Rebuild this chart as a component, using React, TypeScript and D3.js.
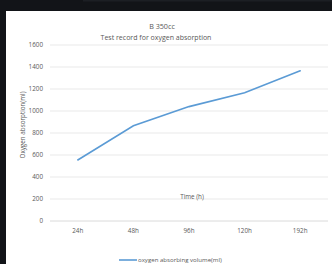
import { useRef, useEffect } from "react";
import * as d3 from "d3";

// chart values
const categories = ["24h", "48h", "96h", "120h", "192h"];
const oxygenValues = [555, 865, 1040, 1165, 1365];
const yTicks = [0, 200, 400, 600, 800, 1000, 1200, 1400, 1600];

const W = 332;
const H = 264;

export default function App() {
  const ref = useRef<SVGSVGElement | null>(null);

  useEffect(() => {
    const svg = d3.select(ref.current);
    svg.selectAll("*").remove();

    const font = "'Open Sans', 'Liberation Sans', sans-serif";
    const grey = "#595959";

    // dark frame + white chart panel
    svg.append("rect").attr("width", W).attr("height", H).attr("fill", "#121418");
    svg.append("rect").attr("x", 83).attr("y", 0).attr("width", W - 83).attr("height", 1.5).attr("fill", "#1c1f24");
    svg.append("rect").attr("x", 6).attr("y", 11).attr("width", W - 6).attr("height", H - 11).attr("fill", "#fff");

    const x = d3.scaleBand().domain(categories).range([50, 328]);
    const y = d3.scaleLinear().domain([0, 1600]).range([221, 45]);

    // grid
    svg.append("g")
      .selectAll("line")
      .data(yTicks)
      .enter()
      .append("line")
      .attr("x1", 50)
      .attr("x2", 328)
      .attr("y1", d => y(d))
      .attr("y2", d => y(d))
      .attr("stroke", d => (d === 0 ? "#d0d0d0" : "#e3e3e3"))
      .attr("stroke-width", 0.8);

    svg.append("g")
      .selectAll("text")
      .data(yTicks)
      .enter()
      .append("text")
      .attr("x", 43)
      .attr("y", d => y(d) + 2.3)
      .attr("text-anchor", "end")
      .attr("font-size", 6.3)
      .attr("font-family", font)
      .attr("fill", grey)
      .text(d => d);

    svg.append("g")
      .selectAll("text")
      .data(categories)
      .enter()
      .append("text")
      .attr("x", d => x(d)! + x.bandwidth() / 2)
      .attr("y", 233)
      .attr("text-anchor", "middle")
      .attr("font-size", 6.3)
      .attr("font-family", font)
      .attr("fill", grey)
      .text(d => d);

    // series line
    const line = d3.line<number>()
      .x((_, i) => x(categories[i])! + x.bandwidth() / 2)
      .y(d => y(d));
    svg.append("path")
      .datum(oxygenValues)
      .attr("d", line)
      .attr("fill", "none")
      .attr("stroke", "#5b9bd5")
      .attr("stroke-width", 1.6)
      .attr("stroke-linecap", "round");

    // titles
    svg.append("text").attr("x", 162).attr("y", 28.5).attr("text-anchor", "middle")
      .attr("font-size", 7.2).attr("font-family", font).attr("fill", grey).text("B 350cc");
    svg.append("text").attr("x", 156).attr("y", 39.5).attr("text-anchor", "middle")
      .attr("font-size", 7).attr("font-family", font).attr("fill", grey).text("Test record for oxygen absorption");

    svg.append("text").attr("x", 192).attr("y", 199).attr("text-anchor", "middle")
      .attr("font-size", 6.3).attr("font-family", font).attr("fill", grey).text("Time (h)");

    svg.append("text")
      .attr("transform", "translate(25,125) rotate(-90)")
      .attr("text-anchor", "middle")
      .attr("font-size", 6.3).attr("font-family", font).attr("fill", grey)
      .text("Oxygen absorption(ml)");

    // legend
    svg.append("line").attr("x1", 119).attr("x2", 137).attr("y1", 260).attr("y2", 260)
      .attr("stroke", "#5b9bd5").attr("stroke-width", 1.6);
    svg.append("text").attr("x", 138).attr("y", 262).attr("font-size", 6.1)
      .attr("font-family", font).attr("fill", grey).text("oxygen absorbing volume(ml)");
  }, []);

  return (
    <svg
      ref={ref}
      width={W}
      height={H}
      style={{ position: "fixed", left: 0, top: 0, display: "block" }}
    />
  );
}
